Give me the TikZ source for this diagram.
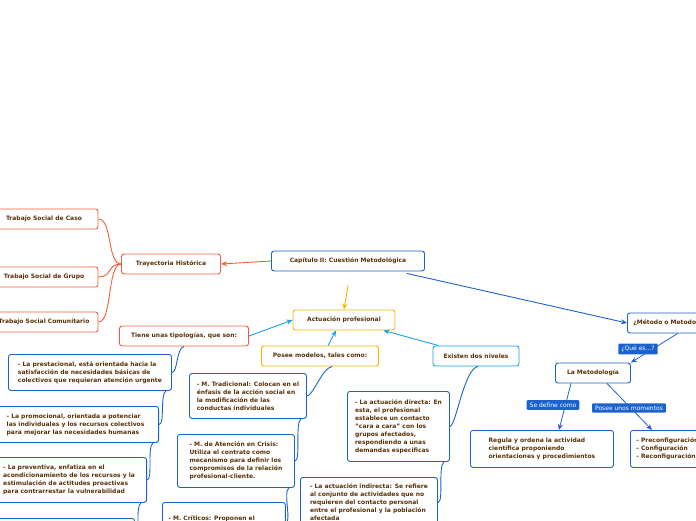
\documentclass[tikz,border=0pt]{standalone}
\usepackage{fontspec}
\setmainfont{DejaVu Sans}
\usepackage{tikz}
\usetikzlibrary{arrows.meta}
\definecolor{txt}{HTML}{5A3208}
\definecolor{bl}{HTML}{1A62CC}
\definecolor{lb}{HTML}{1AA0E6}
\definecolor{org}{HTML}{F0603A}
\definecolor{yel}{HTML}{F5B400}
\tikzset{
  box/.style={draw=#1,line width=0.9pt,rounded corners=2.5pt,fill=white,text=txt,
    font=\fontsize{6}{8}\selectfont\bfseries,align=left,inner xsep=6pt,inner ysep=4pt},
  tag/.style={fill=bl,text=white,font=\fontsize{6}{7}\selectfont,inner xsep=3pt,inner ysep=2.5pt,rounded corners=1pt},
  link/.style={line width=0.9pt,-{Stealth[length=6pt,width=5pt]}}
}
\begin{document}
\begin{tikzpicture}[x=1pt,y=-1pt]
\useasboundingbox (0,0) rectangle (696,520);
\clip (0,0) rectangle (696,520);
% central part
\node (cap)[box=bl,minimum width=153pt,minimum height=20pt,align=center] at (348,261) {Capítulo II: Cuestión Metodológica};
\node (tray)[box=org,minimum width=99pt,minimum height=20pt,align=center] at (171,264) {Trayectoria Histórica};
\node (caso)[box=org,minimum width=108pt,minimum height=20pt,align=center] at (44,219) {Trabajo Social de Caso};
\node (grupo)[box=org,minimum width=108pt,minimum height=20pt,align=center] at (44,277) {Trabajo Social de Grupo};
\node (comu)[box=org,minimum width=108pt,minimum height=20pt,align=center] at (44,322) {Trabajo Social Comunitario};
\node (act)[box=yel,minimum width=102pt,minimum height=20pt,align=center] at (344,320) {Actuación profesional};
\node (tipo)[box=org,minimum width=129pt,minimum height=20pt,align=center] at (184,336) {Tiene unas tipologías, que son:};
\node (mod)[box=yel,minimum width=117pt,minimum height=20pt,align=center] at (320,356) {Posee modelos, tales como:};
\node (niv)[box=lb,minimum width=86pt,minimum height=20pt,align=center] at (476,356) {Existen dos niveles};
% right part
\node (meto)[box=bl,minimum height=20pt,anchor=west] at (627,323) {¿Método o Metodología?};
\node (lameto)[box=bl,minimum width=75pt,minimum height=20pt,align=center] at (593,373) {La Metodología};
\node (regula)[box=bl,minimum width=143pt,minimum height=37pt,anchor=north west] at (470,430) {Regula y ordena la actividad\\científica proponiendo\\orientaciones y procedimientos};
\node (momen)[box=bl,minimum height=37pt,anchor=north west] at (630,430) {- Preconfiguración\\- Configuración\\- Reconfiguración};
% tipologias
\node (prest)[box=bl,minimum width=163pt,minimum height=36pt,anchor=north west] at (8,354) {- La prestacional, está orientada hacia la\\satisfacción de necesidades básicas de\\colectivos que requieran atención urgente};
\node (promo)[box=bl,minimum width=166pt,minimum height=36pt,anchor=north east] at (159,406) {- La promocional, orientada a potenciar\\las individuales y los recursos colectivos\\para mejorar las necesidades humanas};
\node (prev)[box=bl,minimum width=155pt,minimum height=45pt,anchor=north east] at (147,457) {- La preventiva, enfatiza en el\\acondicionamiento de los recursos y la\\estimulación de actitudes proactivas\\para contrarrestar la vulnerabilidad};
\node (asist)[box=bl,minimum width=145pt,minimum height=30pt,anchor=north east] at (135,518) {};
% modelos
\node (trad)[box=bl,minimum width=117pt,minimum height=45pt,anchor=north west] at (189,373) {- M. Tradicional: Colocan en el\\énfasis de la acción social en\\la modificación de las\\conductas individuales};
\node (crisis)[box=bl,minimum width=117pt,minimum height=53pt,anchor=north west] at (177,434) {- M. de Atención en Crisis:\\Utiliza el contrato como\\mecanismo para definir los\\compromisos de la relación\\profesional-cliente.};
\node (crit)[box=bl,minimum width=120pt,minimum height=40pt,anchor=north west] at (162,502) {- M. Críticos: Proponen el\\cambio social en sus estructuras};
% niveles
\node (dir)[box=bl,minimum width=102pt,minimum height=70pt,anchor=north west] at (347,391) {- La actuación directa: En\\esta, el profesional\\establece un contacto\\"cara a cara" con los\\grupos afectados,\\respondiendo a unas\\demandas especificas};
\node (ind)[box=bl,minimum width=137pt,minimum height=50pt,anchor=north west] at (300,477) {- La actuación indirecta: Se refiere\\al conjunto de actividades que no\\requieren del contacto personal\\entre el profesional y la población\\afectada};
% arrows
\draw[link,org] (cap.west) -- (tray.east);
\draw[link,yel] (cap.south) ++(0,14) -- (act.north);
\draw[link,bl] (cap.south east) ++(-18,2) -- (meto.west);
\draw[link,lb] (tipo.east) -- (act.west);
\draw[link,lb] (mod.north) ++(8,0) -- ([xshift=-8pt]act.south);
\draw[link,lb] (niv.north west) ++(6,0) -- ([xshift=-12pt]act.south east);
\foreach \n in {caso,grupo,comu}
  \draw[org,line width=0.9pt] (tray.west) .. controls +(-14,0) and +(14,0) .. (\n.east);
% chains
\draw[bl,line width=0.9pt] (tipo.south) .. controls +(-8,2) and +(6,0) .. (prest.east);
\draw[bl,line width=0.9pt] ([xshift=-6pt]prest.south east) .. controls +(-6,4) and +(6,0) .. (promo.east);
\draw[bl,line width=0.9pt] ([xshift=-6pt]promo.south east) .. controls +(-6,4) and +(6,0) .. (prev.east);
\draw[bl,line width=0.9pt] ([xshift=-6pt]prev.south east) .. controls +(-6,4) and +(6,0) .. (asist.east);
\draw[bl,line width=0.9pt] ([xshift=12pt]mod.south) .. controls +(-10,2) and +(6,0) .. (trad.east);
\draw[bl,line width=0.9pt] ([xshift=-6pt]trad.south east) .. controls +(-6,4) and +(6,0) .. (crisis.east);
\draw[bl,line width=0.9pt] ([xshift=-6pt]crisis.south east) .. controls +(-6,4) and +(6,0) .. (crit.east);
\draw[bl,line width=0.9pt] ([xshift=2pt]niv.south) .. controls +(-14,2) and +(6,0) .. (dir.east);
\draw[bl,line width=0.9pt] ([xshift=-6pt]dir.south east) .. controls +(-6,4) and +(6,0) .. (ind.east);
% metodologia
\draw[link,bl,line width=0.8pt] ([xshift=-45pt]meto.south east) -- (lameto.north east);
\draw[link,bl,line width=0.8pt] ([xshift=-22pt]lameto.south) -- ([xshift=-55pt]regula.north east);
\draw[link,bl,line width=0.8pt] ([xshift=14pt]lameto.south) -- ([xshift=22pt]momen.north west);
\node (que)[tag] at (638,349) {¿Qué es...?};
\node (def)[tag] at (553,405) {Se define como};
\node (posee)[tag] at (629,408) {Posee unos momentos};
\end{tikzpicture}
\end{document}
